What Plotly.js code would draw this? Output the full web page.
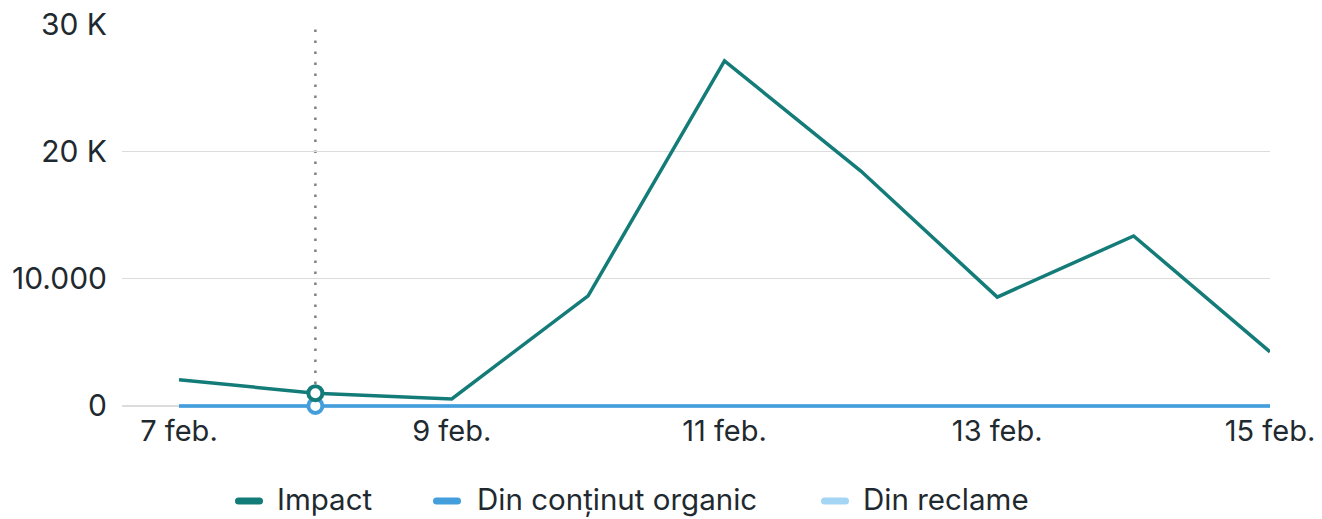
<!DOCTYPE html>
<html>
<head>
<meta charset="utf-8">
<script src="https://cdn.plot.ly/plotly-3.0.1.min.js"></script>
<style>html,body{margin:0;padding:0;background:#fff;}#chart{width:1322px;height:519px;}</style>
</head>
<body>
<div id="chart"></div>
<script>
const dates = ['2024-02-07','2024-02-08','2024-02-09','2024-02-10','2024-02-11','2024-02-12','2024-02-13','2024-02-14','2024-02-15'];
const impact = [2050, 1000, 550, 8650, 27100, 18450, 8550, 13350, 4250];
const organic = [0, 0, 0, 0, 0, 0, 0, 0, 0];
const ads = [0, 0, 0, 0, 0, 0, 0, 0, 0];
const seriesNames = ['Impact', 'Din conținut organic', 'Din reclame'];
const tickDates = ['2024-02-07','2024-02-09','2024-02-11','2024-02-13','2024-02-15'];
const tickLabels = ['7 feb.','9 feb.','11 feb.','13 feb.','15 feb.'];
const yTicks = [0, 10000, 20000, 30000];
const yLabels = ['0','10.000','20 K','30 K'];
const hoverIndex = 1;

const cTeal = '#147c78', cBlue = '#449edb', cLight = '#a5d5f4';
const colors = [cTeal, cBlue, cLight];
const font = 'Inter, "Noto Sans", sans-serif';
const textColor = '#1f2a30';

const W = 1322, H = 519;
const M = {l: 122, r: 52, t: 24, b: 108};
const PW = W - M.l - M.r, PH = H - M.t - M.b;
const px = v => (v - M.l) / PW;
const py = v => (H - M.b - v) / PH;

const traces = [
  {x: dates, y: ads, name: seriesNames[2], mode: 'lines', line: {color: cLight, width: 3.5}, showlegend: false},
  {x: dates, y: organic, name: seriesNames[1], mode: 'lines', line: {color: cBlue, width: 3.5}, showlegend: false},
  {x: dates, y: impact, name: seriesNames[0], mode: 'lines', line: {color: cTeal, width: 3.5}, showlegend: false},
  {x: [dates[hoverIndex]], y: [organic[hoverIndex]], mode: 'markers', showlegend: false, cliponaxis: false,
   marker: {symbol: 'circle', size: 14, color: '#fff', line: {color: cBlue, width: 4}}},
  {x: [dates[hoverIndex]], y: [impact[hoverIndex]], mode: 'markers', showlegend: false, cliponaxis: false,
   marker: {symbol: 'circle', size: 14, color: '#fff', line: {color: cTeal, width: 4}}}
];

const start = new Date(dates[0] + 'T00:00:00Z').getTime() - 0.418 * 86400000;
const startStr = new Date(start).toISOString().replace('T', ' ').replace('Z', '');

// manual legend (pill symbols + text)
const legendSym = [235, 433, 821];
const legendTxt = [276, 476, 862];
const legendY = 501;
const textY = 499;
const symW = 28, symH = 7;
function pill(x0px, ypx, color) {
  const r = symH / 2;
  const a = x0px + r, b = x0px + symW - r;
  const yt = py(ypx - r), yb = py(ypx + r), ym = py(ypx);
  const path = `M${px(a)},${yt} L${px(b)},${yt} Q${px(b + r)},${yt} ${px(b + r)},${ym} Q${px(b + r)},${yb} ${px(b)},${yb} L${px(a)},${yb} Q${px(a - r)},${yb} ${px(a - r)},${ym} Q${px(a - r)},${yt} ${px(a)},${yt} Z`;
  return {type: 'path', xref: 'paper', yref: 'paper', path: path, fillcolor: color, line: {width: 0}};
}

const shapes = [{type: 'line', xref: 'x', yref: 'y', x0: dates[hoverIndex], x1: dates[hoverIndex],
  y0: 0, y1: yTicks[yTicks.length - 1], line: {color: '#808080', width: 2.5, dash: '2.5px,8.5px'}, layer: 'below'}];
const annotations = [];
seriesNames.forEach((n, i) => {
  shapes.push(pill(legendSym[i], legendY, colors[i]));
  annotations.push({xref: 'paper', yref: 'paper', x: px(legendTxt[i]), y: py(textY), xanchor: 'left', yanchor: 'middle',
    text: n, showarrow: false, borderpad: 0, font: {family: font, size: 29.5, color: textColor}});
});

const layout = {
  width: W, height: H,
  margin: {l: M.l, r: M.r, t: M.t, b: M.b, autoexpand: false},
  paper_bgcolor: '#fff', plot_bgcolor: '#fff',
  font: {family: font, size: 29, color: textColor},
  showlegend: false,
  xaxis: {type: 'date', range: [startStr, dates[dates.length - 1]], tickmode: 'array',
          tickvals: tickDates, ticktext: tickLabels, showgrid: false, zeroline: false,
          showline: false, ticks: '', fixedrange: true, tickfont: {size: 29}},
  yaxis: {range: [-400, 30000], tickmode: 'array', tickvals: yTicks, ticktext: yLabels,
          showgrid: true, gridcolor: '#dcdcdc', gridwidth: 1.2, zeroline: false,
          showline: false, ticks: '', ticklabelstandoff: 14, fixedrange: true, tickfont: {size: 30}},
  shapes: shapes,
  annotations: annotations,
  hovermode: false
};

Plotly.newPlot('chart', traces, layout, {displayModeBar: false, staticPlot: true});
</script>
</body>
</html>
